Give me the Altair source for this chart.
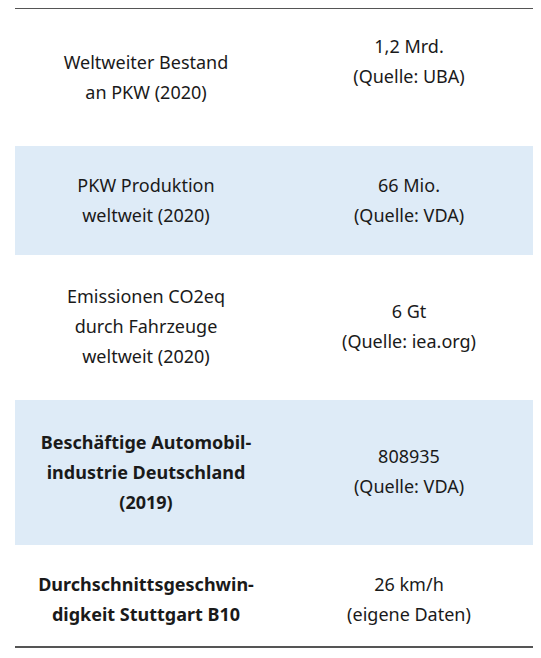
import altair as alt
import pandas as pd

left_labels = ["Weltweiter Bestand\nan PKW (2020)", "PKW Produktion\nweltweit (2020)",
               "Emissionen CO2eq\ndurch Fahrzeuge\nweltweit (2020)",
               "Beschäftige Automobil-\nindustrie Deutschland\n(2019)",
               "Durchschnittsgeschwin-\ndigkeit Stuttgart B10"]
right_labels = ["1,2 Mrd.\n(Quelle: UBA)", "66 Mio.\n(Quelle: VDA)", "6 Gt\n(Quelle: iea.org)",
                "808935\n(Quelle: VDA)", "26 km/h\n(eigene Daten)"]
bold = [False, False, False, True, True]
shaded = [False, True, False, True, False]

# layout (page pixel coordinates, first text line positions)
edges = [8, 146, 255, 400, 545, 647]
left_x, right_x = 146, 409
left_first = [64, 187, 298, 444, 586]
right_first = [48, 187, 313, 458, 586]

rows = pd.DataFrame({"y0": edges[:-1], "y1": edges[1:], "shaded": shaded})
texts = pd.DataFrame({
    "x": [left_x] * 5 + [right_x] * 5,
    "y": left_first + right_first,
    "t": [s.split("\n") for s in left_labels] + [s.split("\n") for s in right_labels],
    "bold": bold + [False] * 5,
})

X = alt.Scale(domain=[8, 533])
Y = alt.Scale(domain=[8, 648], reverse=True)

bg = alt.Chart(rows).transform_filter("datum.shaded").mark_rect(color="#deebf7").encode(
    x=alt.value(7), x2=alt.value(525),
    y=alt.Y("y0:Q", scale=Y, axis=None), y2="y1:Q")

lines = alt.Chart(pd.DataFrame({"y": [edges[0], edges[-1]]})).mark_rule(
    color="#555", strokeWidth=2).encode(
    x=alt.value(7), x2=alt.value(525), y=alt.Y("y:Q", scale=Y, axis=None))

def txt(b):
    return alt.Chart(texts[texts.bold == b]).mark_text(
        font="Noto Sans", fontSize=18, lineHeight=30, baseline="middle", align="center",
        color="#1a1a1a", fontWeight="bold" if b else "normal").encode(
        x=alt.X("x:Q", scale=X, axis=None), y=alt.Y("y:Q", scale=Y, axis=None), text="t")

chart = alt.layer(bg, lines, txt(False), txt(True)).properties(
    width=525, height=640, padding=0, autosize="none").configure_view(stroke=None)

chart.save("out.html", embed_options={"renderer": "svg", "actions": False})
